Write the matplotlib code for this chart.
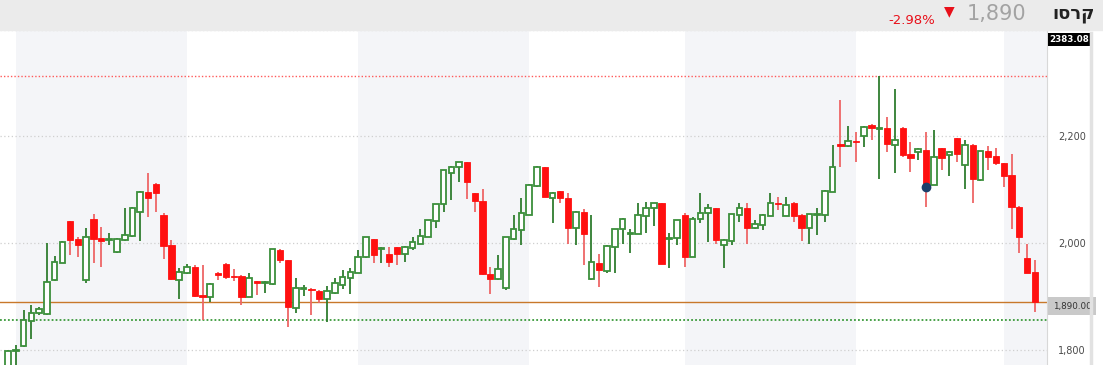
import numpy as np
import matplotlib
matplotlib.use('Agg')
import matplotlib.pyplot as plt
from matplotlib.patches import Rectangle

# datos diarios (OHLC)
opens = [1770, 1797, 1807, 1854, 1869, 1866, 1930, 1963, 2041, 2007,
         1930, 2045, 2009, 2005, 1984, 2006, 2013, 2059, 2096, 2111,
         2053, 1996, 1931, 1943, 1955, 1902, 1899, 1944, 1961, 1938,
         1938, 1899, 1928, 1925, 1923, 1987, 1968, 1878, 1913, 1914,
         1910, 1895, 1907, 1921, 1934, 1944, 1974, 2007, 1989, 1979,
         1992, 1979, 1990, 1999, 2012, 2042, 2073, 2132, 2143, 2152,
         2093, 2079, 1942, 1932, 1915, 2007, 2024, 2053, 2107, 2142,
         2085, 2097, 2084, 2029, 2058, 1932, 1963, 1948, 1993, 2026,
         2016, 2017, 2051, 2065, 2075, 2008, 2009, 2053, 1974, 2045,
         2056, 2065, 1996, 2004, 2053, 2065, 2028, 2034, 2051, 2076,
         2051, 2076, 2053, 2028, 2053, 2053, 2096, 2186, 2183, 2191,
         2200, 2222, 2214, 2215, 2184, 2215, 2167, 2170, 2175, 2109,
         2178, 2165, 2197, 2146, 2184, 2118, 2172, 2163, 2150, 2128,
         2068, 1971, 1946]
highs = [1800, 1808, 1874, 1883, 1880, 2000, 1976, 2003, 2041, 2012,
         2028, 2054, 2030, 2018, 2010, 2066, 2068, 2097, 2132, 2112,
         2056, 2006, 1953, 1960, 1958, 1959, 1925, 1945, 1962, 1951,
         1940, 1944, 1929, 1929, 1989, 1988, 1969, 1934, 1921, 1916,
         1911, 1919, 1935, 1949, 1953, 1987, 2012, 2008, 1992, 1993,
         1993, 1995, 2011, 2026, 2044, 2074, 2138, 2145, 2153, 2153,
         2094, 2101, 1955, 1977, 2012, 2053, 2084, 2110, 2144, 2143,
         2095, 2098, 2094, 2060, 2063, 2053, 1979, 1997, 2027, 2047,
         2026, 2075, 2077, 2076, 2076, 2018, 2044, 2056, 2049, 2093,
         2073, 2066, 2007, 2055, 2076, 2075, 2043, 2054, 2093, 2087,
         2087, 2077, 2054, 2055, 2065, 2099, 2184, 2269, 2220, 2209,
         2219, 2223, 2314, 2236, 2289, 2218, 2190, 2178, 2209, 2212,
         2179, 2172, 2198, 2193, 2185, 2173, 2182, 2178, 2151, 2167,
         2069, 1999, 1968]
lows = [1765, 1770, 1805, 1820, 1865, 1865, 1928, 1962, 1977, 1974,
        1925, 1963, 1955, 1996, 1982, 2004, 2011, 2004, 2049, 2059,
        1970, 1931, 1895, 1941, 1899, 1855, 1890, 1931, 1932, 1929,
        1884, 1898, 1902, 1907, 1922, 1962, 1842, 1868, 1900, 1865,
        1887, 1852, 1905, 1914, 1904, 1943, 1972, 1963, 1962, 1955,
        1959, 1965, 1987, 1998, 2011, 2028, 2059, 2081, 2115, 2083,
        2059, 1940, 1905, 1930, 1912, 2005, 1996, 2052, 2106, 2086,
        2037, 2076, 1999, 1996, 1959, 1930, 1917, 1943, 1944, 1998,
        1982, 2016, 2018, 2031, 1960, 1954, 1996, 1955, 1973, 2037,
        2001, 1999, 1954, 1996, 2040, 1999, 2026, 2024, 2050, 2062,
        2050, 2040, 2004, 1998, 2015, 2040, 2095, 2143, 2180, 2153,
        2180, 2193, 2120, 2170, 2131, 2162, 2134, 2155, 2067, 2108,
        2137, 2126, 2153, 2101, 2076, 2117, 2137, 2147, 2105, 2026,
        1982, 1943, 1871]
closes = [1797, 1798, 1855, 1869, 1876, 1927, 1965, 2002, 2006, 1996,
          2012, 2008, 2004, 2006, 2007, 2015, 2066, 2096, 2085, 2094,
          1995, 1932, 1946, 1955, 1900, 1899, 1923, 1940, 1937, 1936,
          1899, 1934, 1925, 1927, 1988, 1968, 1880, 1915, 1915, 1911,
          1895, 1909, 1925, 1937, 1946, 1974, 2011, 1977, 1991, 1965,
          1979, 1993, 2001, 2013, 2043, 2073, 2137, 2143, 2152, 2114,
          2078, 1942, 1932, 1952, 2011, 2026, 2056, 2109, 2143, 2087,
          2094, 2084, 2029, 2059, 2017, 1965, 1949, 1994, 2026, 2046,
          2018, 2053, 2065, 2075, 1961, 2010, 2043, 1974, 2046, 2056,
          2065, 2006, 2006, 2054, 2065, 2028, 2035, 2053, 2076, 2074,
          2071, 2051, 2028, 2054, 2055, 2098, 2143, 2183, 2192, 2189,
          2218, 2215, 2216, 2186, 2193, 2165, 2159, 2176, 2105, 2161,
          2159, 2170, 2167, 2184, 2120, 2172, 2162, 2150, 2126, 2067,
          2012, 1944, 1890]

NOMBRE = 'קרסו'
ULTIMO = 1890
CAMBIO = '-2.98%'
MAXIMO_EJE = '2383.08'
MINIMO_LINEA = 1855
LIMITES_MES = [1, 23, 45, 67, 87, 109, 128]
PUNTO_AZUL = 118
YTICKS = [1800, 2000, 2200, 2400]

VERDE = '#3b8f3b'
VERDE_MECHA = '#2f7d2f'
ROJO = '#ff1010'
ROJO_MECHA = '#ee6666'

o = np.array(opens, float)
h = np.array(highs, float)
l = np.array(lows, float)
c = np.array(closes, float)
x = np.arange(len(o))
sube = c >= o

W, H = 1103, 365
fig = plt.figure(figsize=(W / 100, H / 100), dpi=100)
fig.patch.set_facecolor('white')

# barra superior
fig.patches.append(Rectangle((0, 1 - 30 / H), 1, 30 / H, transform=fig.transFigure,
                             color='#ebebeb', zorder=0))
fig.text(1095 / W, 1 - 14 / H, NOMBRE[::-1], ha='right', va='center',
         fontsize=13, fontweight='bold', color='#222222', family='DejaVu Sans')
fig.text(1026 / W, 1 - 14 / H, '{:,}'.format(ULTIMO), ha='right', va='center',
         fontsize=15, color='#a3a3a3')
fig.text(949 / W, 1 - 11 / H, '\u25BC', ha='center', va='center', fontsize=10, color='#e8101a')
fig.text(935 / W, 1 - 21 / H, CAMBIO, ha='right', va='center', fontsize=9.5, color='#e8101a')

# eje principal
ax = fig.add_axes([0, 0, 1047 / W, 334 / H])
ax.set_xlim(-1.03, 133.55)
ax.set_ylim(1771, 2398)
for s in ax.spines.values():
    s.set_visible(False)
ax.spines['right'].set_visible(True)
ax.spines['right'].set_color('#d8d8d8')

# bandas mensuales
lims = LIMITES_MES + [200]
for k in range(0, len(lims) - 1, 2):
    ax.axvspan(lims[k], lims[k + 1], color='#f4f5f8', lw=0, zorder=0)

for yv in YTICKS:
    ax.axhline(yv, color='#cfcfcf', lw=0.9, ls=(0, (1, 2)), zorder=1)

# lineas de referencia
ax.axhline(h.max(), color='#ff5a5a', lw=1, ls=(0, (1, 1.5)), zorder=1)
ax.axhline(MINIMO_LINEA, color='#3a9a3a', lw=1.3, ls=(0, (1, 1.2)), zorder=1)
ax.axhline(ULTIMO, color='#c8782a', lw=1, zorder=1)

# velas
ax.vlines(x[sube], l[sube], h[sube], colors=VERDE_MECHA, lw=1.3, zorder=2)
ax.vlines(x[~sube], l[~sube], h[~sube], colors=ROJO_MECHA, lw=1.3, zorder=2)
alto = np.maximum(np.abs(c - o), 1.8)
base = np.minimum(o, c)
ax.bar(x[sube], alto[sube], bottom=base[sube], width=0.72, facecolor='white',
       edgecolor=VERDE, linewidth=1.3, zorder=3)
ax.bar(x[~sube], alto[~sube], bottom=base[~sube], width=0.8, facecolor=ROJO,
       edgecolor=ROJO, linewidth=0.6, zorder=3)

ax.plot(x[PUNTO_AZUL], c[PUNTO_AZUL], 'o', color='#1d3f6a', markersize=6, zorder=4)

# eje y derecho
ax.yaxis.tick_right()
ax.set_yticks(YTICKS[:-1])
ax.set_yticklabels(['{:,}'.format(v) for v in YTICKS[:-1]], ha='right')
ax.tick_params(axis='y', length=0, pad=28, labelsize=7, labelcolor='#4a4a4a')
ax.set_xticks([])

# etiquetas de precio
ax.annotate('{:,.2f}'.format(ULTIMO), xy=(1.0055, ULTIMO), xycoords=('axes fraction', 'data'),
            ha='left', va='top', fontsize=6.3, color='#333333',
            bbox=dict(boxstyle='square,pad=0.5', fc='#c9c9c9', ec='none'), annotation_clip=False)
ax.annotate(MAXIMO_EJE, xy=(1.0025, 0.975), xycoords='axes fraction',
            ha='left', va='center', fontsize=6.3, fontweight='bold', color='white',
            family='Liberation Sans Narrow',
            bbox=dict(boxstyle='square,pad=0.2', fc='black', ec='none'), annotation_clip=False)

fig.add_artist(plt.Line2D([1091 / W, 1091 / W], [0, 1 - 33 / H], transform=fig.transFigure,
                          color='#e2e2e2', lw=2.5))

fig.savefig('out.png', dpi=100)
